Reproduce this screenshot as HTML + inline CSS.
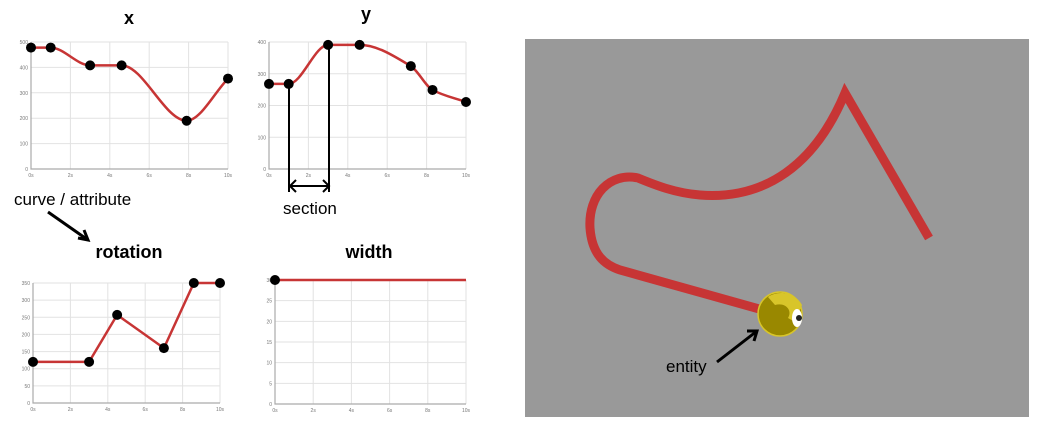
<!DOCTYPE html>
<html><head><meta charset="utf-8">
<style>
body{margin:0;background:#fff;width:1051px;height:441px;overflow:hidden;font-family:"Liberation Sans",sans-serif}
svg{position:absolute;left:0;top:0}
</style></head><body>
<svg id="s" width="1051" height="441" font-family="Liberation Sans, sans-serif">
<text x="129" y="24" font-size="18" font-weight="bold" text-anchor="middle">x</text>
<text x="366" y="20" font-size="18" font-weight="bold" text-anchor="middle">y</text>
<text x="129" y="258" font-size="18" font-weight="bold" text-anchor="middle">rotation</text>
<text x="369" y="258" font-size="18" font-weight="bold" text-anchor="middle">width</text>
<g id="charts"></g>
<text x="14" y="205" font-size="17">curve / attribute</text>
<path d="M48,212 L88,240 M78,238 L88,240 L84,230" stroke="#000" stroke-width="3" fill="none"/>
<g stroke="#000" stroke-width="2" fill="none">
<path d="M289,84 V192 M329,45 V192 M290,186 H329 M296,180 L290,186 L296,192 M323,180 L329,186 L323,192"/>
</g>
<text x="283" y="214" font-size="17">section</text>
<rect x="525" y="39" width="504" height="378" fill="#999"/>
<path d="M929,238 L845,93 C815,165 765,200 700,195 C675,193 655,185 638,178 C610,172 588,195 590,228 C592,255 605,265 620,270 L763,310" stroke="#c73535" stroke-width="9" fill="none" stroke-linejoin="miter"/>
<g>
<circle cx="780" cy="314" r="22" fill="#998800" stroke="#d8c52a" stroke-width="1.5"/>
<path d="M768,297 C778,290 795,292 802,305 L795,322 L788,318 C793,310 785,302 775,305 Z" fill="#d8c52a"/>
<ellipse cx="797" cy="318" rx="5" ry="9" fill="#fff"/>
<circle cx="799" cy="318" r="3" fill="#222"/>
</g>
<text x="666" y="372" font-size="17">entity</text>
<path d="M717,362 L757,331 M747,331 L757,331 L754,341" stroke="#000" stroke-width="3" fill="none"/>
</svg>
<script>
const xTimes=[0,1,3,4.6,7.9,10];
const xValues=[478,478,408,408,190,356];
const xTicks=[0,100,200,300,400,500];
const yTimes=[0,1,3,4.6,7.2,8.3,10];
const yValues=[268,268,391,391,324,249,211];
const yTicks=[0,100,200,300,400];
const rotTimes=[0,3,4.5,7,8.6,10];
const rotValues=[120,120,257,160,350,350];
const rotTicks=[0,50,100,150,200,250,300,350];
const widthTimes=[0,10];
const widthValues=[30,30];
const widthTicks=[0,5,10,15,20,25,30];
const timeTicks=[0,2,4,6,8,10];
const NS="http://www.w3.org/2000/svg";
const root=document.getElementById('charts');
function el(t,a,p){const e=document.createElementNS(NS,t);for(const k in a)e.setAttribute(k,a[k]);(p||root).appendChild(e);return e;}
function monotone(pts){
  const n=pts.length;if(n<3)return 'M'+pts.map(p=>p.join(',')).join('L');
  const d=[],m=[];for(let i=0;i<n-1;i++)d.push((pts[i+1][1]-pts[i][1])/(pts[i+1][0]-pts[i][0]));
  m[0]=d[0];m[n-1]=d[n-2];
  for(let i=1;i<n-1;i++){m[i]=d[i-1]*d[i]<=0?0:(3*(d[i-1]+d[i]))/(2*(1/d[i-1]+1/d[i])*(d[i-1]+d[i])/ (d[i-1]+d[i]) );
    if(d[i-1]*d[i]>0){m[i]=2/(1/d[i-1]+1/d[i]);}}
  let s='M'+pts[0][0]+','+pts[0][1];
  for(let i=0;i<n-1;i++){const h=(pts[i+1][0]-pts[i][0])/3;
    s+=`C${pts[i][0]+h},${pts[i][1]+m[i]*h} ${pts[i+1][0]-h},${pts[i+1][1]-m[i+1]*h} ${pts[i+1][0]},${pts[i+1][1]}`;}
  return s;}
function chart(name,L,R,T,B,maxV,ticks,times,vals,smooth,dots){
  const g=el('g',{});
  
  
  const sx=t=>L+(R-L)*t/10, sy=v=>B-(B-T)*v/maxV;
  timeTicks.forEach(t=>{const l=el('line',{x1:sx(t),x2:sx(t),y1:T,y2:B,stroke:'#e2e2e2','stroke-width':1},g);
    
    const tx=el('text',{x:sx(t),y:B+8,'font-size':5,fill:'#777','text-anchor':'middle'},g);tx.textContent=t+'s';
    });
  ticks.forEach(v=>{const l=el('line',{x1:L,x2:R,y1:sy(v),y2:sy(v),stroke:'#e2e2e2','stroke-width':1},g);
    
    const tx=el('text',{x:L-3,y:sy(v)+2,'font-size':5,fill:'#777','text-anchor':'end'},g);tx.textContent=v;
    });
  const ax=el('path',{d:`M${L},${T}V${B}H${R}`,stroke:'#aaa','stroke-width':1.2,fill:'none'},g);
  
  const pts=times.map((t,i)=>[sx(t),sy(vals[i])]);
  const ln=el('path',{d:smooth?monotone(pts):'M'+pts.map(p=>p.join(',')).join('L'),stroke:'#c73535','stroke-width':2.5,fill:'none'},g);
  
  pts.slice(0,dots).forEach(p=>{const c=el('circle',{cx:p[0],cy:p[1],r:5,fill:'#000'},g);
    });
}
chart('x',31,228,42,169,500,xTicks,xTimes,xValues,true,99);
chart('y',269,466,42,169,400,yTicks,yTimes,yValues,true,99);
chart('rotation',33,220,283,403,350,rotTicks,rotTimes,rotValues,false,99);
chart('width',275,466,280,404,30,widthTicks,widthTimes,widthValues,false,1);
</script>
</body></html>
